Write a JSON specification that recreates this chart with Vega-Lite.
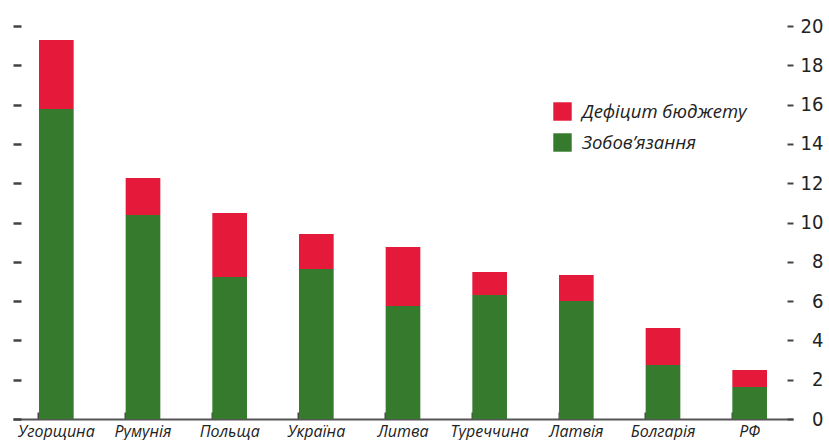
{
  "$schema": "https://vega.github.io/schema/vega-lite/v6.json",
  "autosize": "none",
  "padding": {"left": 13, "top": 26, "right": 36, "bottom": 21},
  "width": 780,
  "height": 393,
  "background": "white",
  "data": {
    "values": [
      {"country": "Угорщина", "series": "Зобов’язання", "value": 15.78, "ord": 1},
      {"country": "Угорщина", "series": "Дефіцит бюджету", "value": 3.51, "ord": 2},
      {"country": "Румунія", "series": "Зобов’язання", "value": 10.38, "ord": 1},
      {"country": "Румунія", "series": "Дефіцит бюджету", "value": 1.88, "ord": 2},
      {"country": "Польща", "series": "Зобов’язання", "value": 7.23, "ord": 1},
      {"country": "Польща", "series": "Дефіцит бюджету", "value": 3.25, "ord": 2},
      {"country": "Україна", "series": "Зобов’язання", "value": 7.63, "ord": 1},
      {"country": "Україна", "series": "Дефіцит бюджету", "value": 1.78, "ord": 2},
      {"country": "Литва", "series": "Зобов’язання", "value": 5.75, "ord": 1},
      {"country": "Литва", "series": "Дефіцит бюджету", "value": 3.0, "ord": 2},
      {"country": "Туреччина", "series": "Зобов’язання", "value": 6.31, "ord": 1},
      {"country": "Туреччина", "series": "Дефіцит бюджету", "value": 1.17, "ord": 2},
      {"country": "Латвія", "series": "Зобов’язання", "value": 6.0, "ord": 1},
      {"country": "Латвія", "series": "Дефіцит бюджету", "value": 1.33, "ord": 2},
      {"country": "Болгарія", "series": "Зобов’язання", "value": 2.75, "ord": 1},
      {"country": "Болгарія", "series": "Дефіцит бюджету", "value": 1.88, "ord": 2},
      {"country": "РФ", "series": "Зобов’язання", "value": 1.63, "ord": 1},
      {"country": "РФ", "series": "Дефіцит бюджету", "value": 0.86, "ord": 2}
    ]
  },
  "config": {
    "view": {"stroke": null},
    "axis": {"grid": false}
  },
  "resolve": {"axis": {"y": "independent"}},
  "layer": [
    {
      "mark": {"type": "bar", "opacity": 0},
      "encoding": {
        "x": {
          "field": "country",
          "type": "nominal",
          "sort": null,
          "scale": {"paddingInner": 0.6, "paddingOuter": 0.3},
          "axis": {
            "title": null,
            "labelAngle": 0,
            "labelFont": "Open Sans",
            "labelFontStyle": "italic",
            "labelFontSize": 16,
            "labelColor": "#222222",
            "labelPadding": 11,
            "bandPosition": 0,
            "tickSize": -7,
            "tickColor": "#444444",
            "tickWidth": 2,
            "domainColor": "#555555",
            "domainWidth": 2
          }
        },
        "y": {
          "field": "value",
          "type": "quantitative",
          "aggregate": "sum",
          "stack": "zero",
          "scale": {"domain": [0, 20], "nice": false},
          "axis": {
            "orient": "left",
            "title": null,
            "values": [0, 2, 4, 6, 8, 10, 12, 14, 16, 18, 20],
            "domain": false,
            "labels": false,
            "tickSize": -8,
            "tickWidth": 2.5,
            "tickColor": "#444444"
          }
        },
        "order": {"field": "ord", "type": "quantitative"}
      }
    },
    {
      "mark": {"type": "bar"},
      "encoding": {
        "x": {
          "field": "country",
          "type": "nominal",
          "sort": null,
          "scale": {"paddingInner": 0.6, "paddingOuter": 0.3},
          "axis": {
            "title": null,
            "labelAngle": 0,
            "labelFont": "Open Sans",
            "labelFontStyle": "italic",
            "labelFontSize": 16,
            "labelColor": "#222222",
            "labelPadding": 11,
            "bandPosition": 0,
            "tickSize": -7,
            "tickColor": "#444444",
            "tickWidth": 2,
            "domainColor": "#555555",
            "domainWidth": 2
          }
        },
        "y": {
          "field": "value",
          "type": "quantitative",
          "aggregate": "sum",
          "stack": "zero",
          "scale": {"domain": [0, 20], "nice": false},
          "axis": {
            "orient": "right",
            "title": null,
            "values": [0, 2, 4, 6, 8, 10, 12, 14, 16, 18, 20],
            "domain": false,
            "tickSize": -6,
            "tickWidth": 2,
            "tickColor": "#444444",
            "labelFont": "DejaVu Sans Condensed",
            "labelFontSize": 20,
            "labelColor": "#222222",
            "labelAlign": "right",
            "labelPadding": 36
          }
        },
        "color": {
          "field": "series",
          "type": "nominal",
          "scale": {
            "domain": ["Дефіцит бюджету", "Зобов’язання"],
            "range": ["#E5193A", "#367A2D"]
          },
          "legend": {
            "title": null,
            "orient": "none",
            "legendX": 540,
            "legendY": 76,
            "symbolType": "square",
            "symbolSize": 340,
            "symbolStrokeWidth": 0,
            "labelFont": "Open Sans",
            "labelFontStyle": "italic",
            "labelFontSize": 18.5,
            "labelColor": "#222222",
            "labelLimit": 300,
            "rowPadding": 12,
            "labelOffset": 10
          }
        },
        "order": {"field": "ord", "type": "quantitative"}
      }
    }
  ]
}
